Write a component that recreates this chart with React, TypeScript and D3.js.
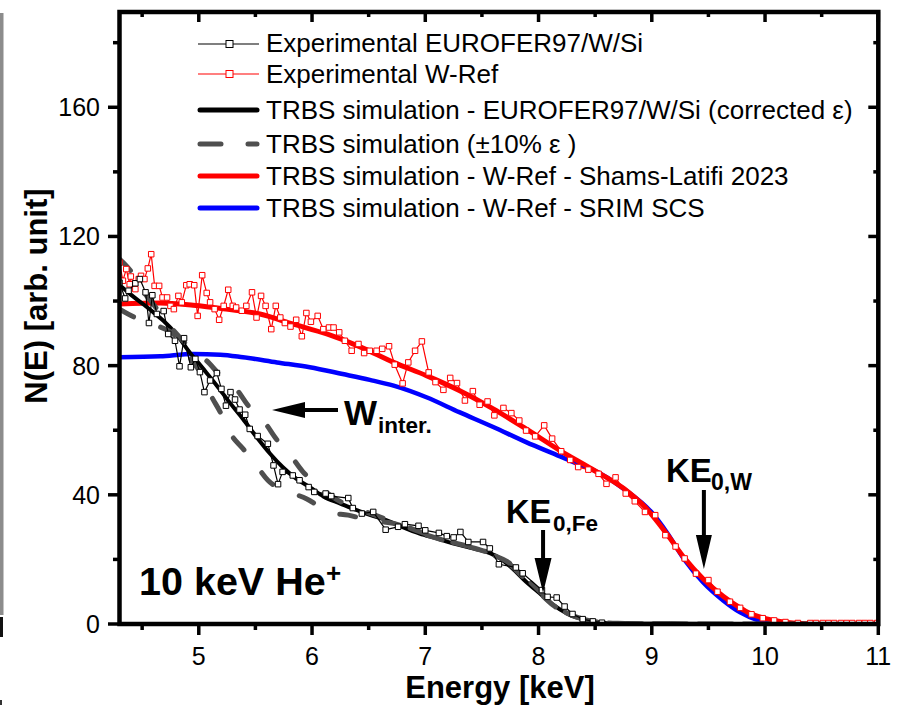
import React from 'react';
import * as d3 from 'd3';

type P = [number, number];

// ---- axis ticks ----
const xTicks = [5, 6, 7, 8, 9, 10, 11];
const xMinor = [4.5, 5.5, 6.5, 7.5, 8.5, 9.5, 10.5];
const yTicks = [0, 40, 80, 120, 160];
const yMinor = [20, 60, 100, 140, 180];

// ---- experimental data: [energy keV, N(E)] ----
const expEurofer: P[] = [
  [4.30, 105.7], [4.35, 100.8], [4.38, 103.2], [4.44, 105.5], [4.48, 106.8], [4.53, 102.7],
  [4.56, 93.2], [4.59, 101.8], [4.63, 96.0], [4.69, 96.9], [4.73, 89.8], [4.79, 87.7],
  [4.83, 79.8], [4.87, 88.5], [4.93, 79.5], [4.97, 82.1], [5.01, 78.0], [5.05, 71.8],
  [5.10, 75.4], [5.16, 77.7], [5.20, 72.8], [5.24, 67.6], [5.28, 71.8], [5.32, 69.5],
  [5.36, 66.4], [5.41, 64.8], [5.45, 60.4], [5.52, 58.2], [5.61, 55.8], [5.66, 49.1],
  [5.70, 43.3], [5.74, 47.1], [5.83, 46.0], [5.89, 44.5], [5.97, 42.4], [6.02, 40.9],
  [6.12, 40.4], [6.17, 39.6], [6.32, 39.0], [6.36, 35.9], [6.44, 34.2], [6.54, 34.7],
  [6.65, 29.2], [6.76, 30.1], [6.82, 30.9], [6.94, 30.4], [7.00, 29.0], [7.12, 28.2],
  [7.19, 27.2], [7.25, 26.8], [7.31, 28.5], [7.38, 25.4], [7.51, 25.4], [7.57, 23.4],
  [7.65, 18.5], [7.80, 17.5], [7.86, 15.7], [8.03, 10.5], [8.08, 8.4], [8.16, 8.2],
  [8.23, 5.4], [8.30, 3.1], [8.39, 1.5], [8.48, 0.8], [8.56, 0.4],
];

const expWRef: P[] = [
  [4.30, 111.9], [4.33, 106.3], [4.36, 109.9], [4.39, 105.2], [4.40, 107.6], [4.44, 103.7],
  [4.47, 106.8], [4.49, 107.8], [4.52, 106.8], [4.55, 110.1], [4.58, 114.5], [4.61, 104.7],
  [4.65, 104.7], [4.68, 101.1], [4.72, 101.1], [4.75, 98.5], [4.78, 97.5], [4.82, 101.6],
  [4.85, 99.6], [4.89, 104.9], [4.92, 105.2], [4.96, 104.9], [4.99, 95.4], [5.03, 108.0],
  [5.07, 102.5], [5.10, 99.6], [5.14, 97.5], [5.18, 94.2], [5.22, 98.5], [5.26, 103.5],
  [5.30, 98.5], [5.33, 98.0], [5.38, 97.0], [5.42, 98.5], [5.47, 102.7], [5.51, 94.9],
  [5.55, 101.6], [5.59, 98.5], [5.64, 91.3], [5.68, 98.5], [5.72, 94.9], [5.76, 93.2],
  [5.81, 92.1], [5.86, 94.2], [5.91, 89.1], [5.95, 96.3], [5.99, 93.6], [6.05, 95.4],
  [6.10, 91.3], [6.15, 91.8], [6.19, 91.8], [6.24, 90.3], [6.29, 87.7], [6.35, 84.6],
  [6.41, 86.7], [6.46, 83.9], [6.51, 84.6], [6.57, 84.6], [6.62, 85.2], [6.68, 86.0],
  [6.73, 80.3], [6.80, 74.5], [6.85, 81.0], [6.91, 84.6], [6.97, 87.5], [7.03, 77.9],
  [7.09, 74.9], [7.16, 72.5], [7.22, 76.2], [7.28, 74.6], [7.35, 69.2], [7.42, 72.1],
  [7.48, 67.9], [7.55, 68.9], [7.61, 64.6], [7.69, 66.9], [7.76, 65.3], [7.83, 63.0],
  [7.89, 59.9], [7.97, 58.1], [8.05, 61.5], [8.12, 57.4], [8.20, 53.5], [8.28, 50.8],
  [8.35, 48.6], [8.44, 47.8], [8.53, 46.5], [8.60, 43.4], [8.68, 45.4], [8.77, 40.4],
  [8.85, 38.0], [8.94, 34.7], [9.03, 33.7], [9.12, 27.5], [9.21, 24.0], [9.29, 20.3],
  [9.39, 15.6], [9.50, 13.6], [9.58, 10.0], [9.69, 6.9], [9.78, 5.0], [9.88, 3.0],
  [9.98, 1.8], [10.08, 1.1], [10.18, 0.6], [10.29, 0.3], [10.40, 0.3], [10.45, 0.3],
  [10.51, 0.3], [10.56, 0.3], [10.61, 0.3], [10.67, 0.3], [10.72, 0.3], [10.77, 0.3],
  [10.83, 0.3], [10.88, 0.3], [10.93, 0.3], [10.99, 0.3],
];

// ---- TRBS simulations ----
const simEurofer: P[] = [
  [4.30, 105.0], [4.40, 102.0], [4.51, 99.0], [4.60, 96.5], [4.69, 93.8], [4.80, 89.8],
  [4.92, 84.1], [5.04, 79.0], [5.16, 73.8], [5.27, 68.7], [5.39, 63.5], [5.51, 57.9],
  [5.63, 52.7], [5.74, 48.6], [5.86, 45.0], [5.98, 42.4], [6.10, 39.5], [6.25, 37.3],
  [6.36, 35.7], [6.51, 33.8], [6.66, 32.1], [6.80, 30.0], [6.95, 28.0], [7.10, 26.5],
  [7.25, 24.9], [7.40, 23.6], [7.54, 22.3], [7.66, 20.3], [7.77, 17.2], [7.89, 13.1],
  [8.01, 9.5], [8.13, 5.9], [8.25, 3.3], [8.36, 1.8], [8.48, 0.7], [8.66, 0.2],
  [9.00, 0.05], [10.00, 0], [10.50, 0],
];

const simPlus10: P[] = [
  [4.30, 113.0], [4.41, 108.8], [4.51, 103.0], [4.61, 98.5], [4.75, 92.0], [4.91, 86.0],
  [5.07, 81.5], [5.19, 77.0], [5.33, 72.8], [5.45, 67.0], [5.58, 62.5], [5.69, 57.0],
  [5.80, 52.7], [5.92, 47.1], [6.05, 43.0], [6.23, 38.3], [6.36, 36.2], [6.55, 33.8],
  [6.75, 31.2], [6.95, 28.6], [7.10, 26.8], [7.25, 25.2], [7.45, 23.4], [7.60, 21.3],
  [7.72, 19.4], [7.85, 15.5], [8.00, 10.5], [8.13, 6.2], [8.25, 3.4], [8.35, 2.0],
  [8.50, 0.7], [8.70, 0.2], [9.00, 0.05], [10.50, 0],
];

const simMinus10: P[] = [
  [4.30, 97.5], [4.43, 95.0], [4.63, 92.4], [4.79, 89.3], [4.95, 81.0], [5.03, 77.0],
  [5.10, 71.3], [5.19, 65.6], [5.29, 58.4], [5.39, 54.3], [5.51, 49.0], [5.61, 44.5],
  [5.80, 40.9], [5.95, 38.8], [6.16, 34.5], [6.32, 33.7], [6.51, 32.1], [6.73, 31.1],
  [6.95, 28.2], [7.10, 26.6], [7.25, 25.0], [7.45, 23.3], [7.60, 21.6], [7.72, 19.2],
  [7.85, 15.0], [8.00, 10.0], [8.13, 5.8], [8.25, 3.2], [8.35, 1.9], [8.50, 0.7],
  [8.70, 0.2], [9.00, 0.05], [10.50, 0],
];

const simWShams: P[] = [
  [4.30, 99.1], [4.66, 99.4], [4.95, 98.7], [5.24, 97.5], [5.54, 96.0], [5.83, 92.9],
  [6.13, 89.8], [6.42, 85.9], [6.72, 81.0], [7.01, 76.9], [7.30, 72.3], [7.60, 66.6],
  [7.89, 60.4], [8.19, 53.7], [8.47, 48.0], [8.75, 42.0], [8.94, 36.2], [9.13, 28.0],
  [9.29, 20.3], [9.45, 14.1], [9.63, 8.6], [9.78, 5.0], [9.86, 3.4], [9.98, 1.9],
  [10.07, 1.2], [10.20, 0.5], [10.35, 0.1], [10.45, 0],
];

const simWSrim: P[] = [
  [4.30, 82.6], [4.66, 82.9], [4.95, 83.6], [5.19, 83.4], [5.39, 82.6], [5.69, 81.0],
  [5.98, 79.5], [6.27, 77.4], [6.51, 75.6], [6.72, 73.8], [7.01, 70.2], [7.30, 65.6],
  [7.60, 61.0], [7.89, 56.3], [8.19, 51.9], [8.33, 49.8], [8.47, 47.9], [8.75, 41.9],
  [9.00, 34.5], [9.13, 28.5], [9.29, 19.8], [9.45, 13.0], [9.63, 7.3], [9.78, 3.6],
  [9.95, 1.0], [10.10, 0.2], [10.30, 0],
];

const legendLabels = [
  'Experimental EUROFER97/W/Si',
  'Experimental W-Ref',
  'TRBS simulation - EUROFER97/W/Si (corrected \u03b5)',
  'TRBS simulation (\u00b110% \u03b5 )',
  'TRBS simulation - W-Ref - Shams-Latifi 2023',
  'TRBS simulation - W-Ref - SRIM SCS',
];

const keFe = 8.04;
const keW = 9.46;

const FONT = '"Liberation Sans", Arial, Helvetica, sans-serif';

export default function App() {
  const L = 119.5, R = 878.3, T = 12, B = 624;
  const x = d3.scaleLinear().domain([4.3, 11]).range([L, R]);
  const y = d3.scaleLinear().domain([0, 189.5]).range([B, T]);
  const smooth = d3.line<P>().x(d => x(d[0])).y(d => y(d[1])).curve(d3.curveMonotoneX);
  const lin = d3.line<P>().x(d => x(d[0])).y(d => y(d[1]));
  const ms = 5.5;
  const grey = '#4f4f4f';
  const dash = '16 29';

  const legendRows = [
    { y: 44, base: 52 }, { y: 74, base: 83 }, { y: 110, base: 119 },
    { y: 144, base: 153 }, { y: 176, base: 185 }, { y: 208, base: 217 },
  ];
  const lx0 = 200, lx1 = 257, ltx = 266;

  const markers = (data: P[], color: string) =>
    data.map((d, i) => (
      <rect key={i} x={x(d[0]) - ms / 2} y={y(d[1]) - ms / 2} width={ms} height={ms}
        fill="#fff" stroke={color} strokeWidth={1} />
    ));

  const axFe = x(keFe), axW = x(keW);

  return (
    <svg width={901} height={705} style={{ position: 'absolute', left: 0, top: 0 }}
      fontFamily={FONT}>
      <rect x={0} y={0} width={901} height={705} fill="#fff" />
      {/* cropped-edge artifacts */}
      <rect x={0} y={13} width={3.5} height={602} fill="#8c8c8c" />
      <rect x={0} y={617} width={3} height={20} fill="#111" />
      <rect x={0} y={700} width={2} height={5} fill="#333" />

      <defs>
        <clipPath id="plotClip">
          <rect x={L} y={T - 3} width={R - L} height={B - T + 3} />
        </clipPath>
      </defs>

      <g clipPath="url(#plotClip)" fill="none" strokeLinejoin="round">
        <path d={smooth(simWSrim) || ''} stroke="#0000ff" strokeWidth={4.5} />
        <path d={smooth(simWShams) || ''} stroke="#ff0000" strokeWidth={5} />
        <path d={smooth(simEurofer) || ''} stroke="#000" strokeWidth={4} />
        <path d={smooth(simPlus10) || ''} stroke={grey} strokeWidth={5} strokeDasharray={dash} strokeLinecap="round" />
        <path d={smooth(simMinus10) || ''} stroke={grey} strokeWidth={5} strokeDasharray={dash} strokeLinecap="round" />
        <path d={lin(expWRef) || ''} stroke="#ff0000" strokeWidth={1.2} />
        {markers(expWRef, '#ff0000')}
        <path d={lin(expEurofer) || ''} stroke="#000" strokeWidth={1.2} />
        {markers(expEurofer, '#000')}
      </g>

      {/* frame */}
      <rect x={L} y={T} width={R - L} height={B - T} fill="none" stroke="#000" strokeWidth={4.5} />

      {/* ticks */}
      <g stroke="#000" strokeWidth={3.5}>
        {xTicks.map(t => (
          <g key={'xt' + t}>
            <line x1={x(t)} x2={x(t)} y1={B} y2={B + 11} />
            <line x1={x(t)} x2={x(t)} y1={T} y2={T + 10} />
          </g>
        ))}
        {xMinor.map(t => (
          <g key={'xm' + t}>
            <line x1={x(t)} x2={x(t)} y1={B} y2={B + 6} />
            <line x1={x(t)} x2={x(t)} y1={T} y2={T + 5} />
          </g>
        ))}
        {yTicks.map(t => (
          <g key={'yt' + t}>
            <line x1={L - 11.5} x2={L} y1={y(t)} y2={y(t)} />
            <line x1={R} x2={R - 10} y1={y(t)} y2={y(t)} />
          </g>
        ))}
        {yMinor.map(t => (
          <g key={'ym' + t}>
            <line x1={L - 6.5} x2={L} y1={y(t)} y2={y(t)} />
            <line x1={R} x2={R - 5} y1={y(t)} y2={y(t)} />
          </g>
        ))}
      </g>

      {/* tick labels */}
      <g fontSize={25} fill="#000">
        {xTicks.map(t => (
          <text key={'xl' + t} x={x(t)} y={665} textAnchor="middle">{t}</text>
        ))}
        {yTicks.map(t => (
          <text key={'yl' + t} x={100} y={y(t) + 9} textAnchor="end">{t}</text>
        ))}
      </g>

      {/* axis titles */}
      <text x={500} y={698} textAnchor="middle" fontSize={31} fontWeight="bold">Energy [keV]</text>
      <text transform="translate(47,296) rotate(-90)" textAnchor="middle" fontSize={31} fontWeight="bold">N(E) [arb. unit]</text>

      {/* legend */}
      <g>
        <line x1={lx0 - 2} x2={lx1 + 2} y1={legendRows[0].y} y2={legendRows[0].y} stroke="#000" strokeWidth={1.2} />
        <rect x={226} y={legendRows[0].y - 3.5} width={7} height={7} fill="#fff" stroke="#000" strokeWidth={1} />
        <line x1={lx0 - 2} x2={lx1 + 2} y1={legendRows[1].y} y2={legendRows[1].y} stroke="#ff0000" strokeWidth={1.2} />
        <rect x={226} y={legendRows[1].y - 3.5} width={7} height={7} fill="#fff" stroke="#ff0000" strokeWidth={1} />
        <line x1={lx0} x2={lx1} y1={legendRows[2].y} y2={legendRows[2].y} stroke="#000" strokeWidth={5} strokeLinecap="round" />
        <line x1={lx0} x2={lx1} y1={legendRows[3].y} y2={legendRows[3].y} stroke={grey} strokeWidth={5} strokeLinecap="round" strokeDasharray="21 27" />
        <line x1={lx0} x2={lx1} y1={legendRows[4].y} y2={legendRows[4].y} stroke="#ff0000" strokeWidth={5} strokeLinecap="round" />
        <line x1={lx0} x2={lx1} y1={legendRows[5].y} y2={legendRows[5].y} stroke="#0000ff" strokeWidth={5} strokeLinecap="round" />
        {legendLabels.map((s, i) => (
          <text key={'lg' + i} x={ltx} y={legendRows[i].base} fontSize={26} fill="#000">{s}</text>
        ))}
      </g>

      {/* annotations */}
      <text x={139} y={595} fontSize={39.5} fontWeight="bold">10 keV He</text>
      <text x={326} y={582} fontSize={26} fontWeight="bold">+</text>

      <text x={344} y={425} fontSize={35} fontWeight="bold">W</text>
      <text x={378} y={433} fontSize={22.5} fontWeight="bold">inter.</text>
      <path d="M272,410 L305,402 L305,408 L338,408 L338,412 L305,412 L305,418 Z" fill="#000" />

      <text x={506} y={523} fontSize={32.5} fontWeight="bold">KE</text>
      <text x={553} y={531} fontSize={22.5} fontWeight="bold">0,Fe</text>
      <path d={`M${axFe - 2},530 L${axFe + 2},530 L${axFe + 2},558 L${axFe + 8.5},558 L${axFe},593 L${axFe - 8.5},558 L${axFe - 2},558 Z`} fill="#000" />

      <text x={666} y={482} fontSize={33} fontWeight="bold">KE</text>
      <text x={711} y={490} fontSize={23} fontWeight="bold">0,W</text>
      <path d={`M${axW - 2},490 L${axW + 2},490 L${axW + 2},535 L${axW + 8},535 L${axW},569 L${axW - 8},535 L${axW - 2},535 Z`} fill="#000" />
    </svg>
  );
}
